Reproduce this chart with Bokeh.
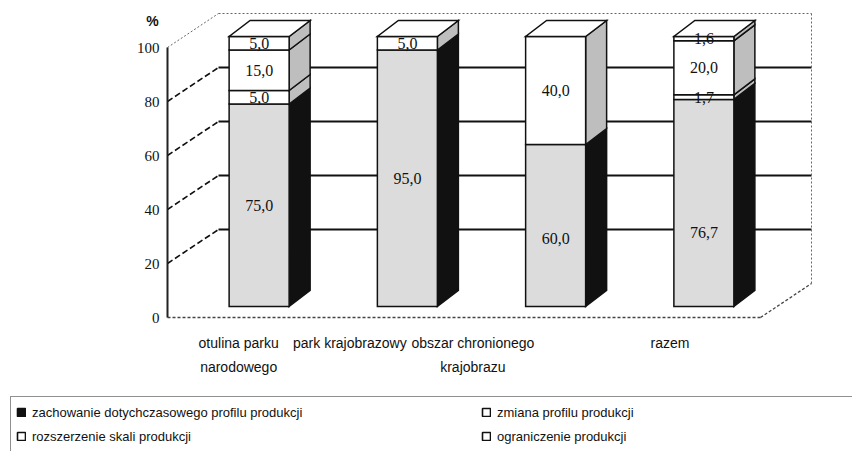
import numpy as np
from bokeh.plotting import figure
from bokeh.models import Range1d, Legend, LegendItem, ColumnDataSource
from bokeh.embed import file_html
from bokeh.resources import INLINE
from bokeh.core.properties import value

# ---------------- data ----------------
categories = ["otulina parku narodowego", "park krajobrazowy",
              "obszar chronionego krajobrazu", "razem"]
category_labels = ["otulina parku\nnarodowego", "park krajobrazowy",
                   "obszar chronionego\nkrajobrazu", "razem"]
series_names = ["zachowanie dotychczasowego profilu produkcji",
                "zmiana profilu produkcji",
                "rozszerzenie skali produkcji",
                "ograniczenie produkcji"]
zachowanie = [75.0, 95.0, 60.0, 76.7]
zmiana = [5.0, 0.0, 0.0, 1.7]
rozszerzenie = [15.0, 0.0, 40.0, 20.0]
ograniczenie = [5.0, 5.0, 0.0, 1.6]
y_ticks = [0, 20, 40, 60, 80, 100]
y_title = "%"

series = [zachowanie, zmiana, rozszerzenie, ograniczenie]

# ---------------- styles / geometry ----------------
front_colors = ["#dcdcdc", "white", "white", "white"]
side_colors = ["#111111", "#bebebe", "#bebebe", "#bebebe"]
legend_colors = ["#111111", "white", "white", "white"]
label_shift = [-0.02, -0.27, -0.44, -0.11]      # category label nudges (category units)
bottom_label_nudge_px = [0, 0, 13, 30]           # data-label nudges for first series

W, H = 852, 451
AXIS_PX, ZERO_PX = 167, 317       # front axis position in the picture
SLOT_PX = 148.25
PX_PER_UNIT = 2.7
x_lo = -0.5
x_first_px = AXIS_PX + SLOT_PX / 2
x_start = (0 - x_first_px) / SLOT_PX
x_end = (W - x_first_px) / SLOT_PX
y_start = (ZERO_PX - H) / PX_PER_UNIT
y_end = ZERO_PX / PX_PER_UNIT
x_floor_right = x_lo + len(categories)

WALL_DX, WALL_DY = 51 / SLOT_PX, 34 / PX_PER_UNIT
BAR_DX, BAR_DY = 17.5 / SLOT_PX, 11 / PX_PER_UNIT
BAR_HALF = 30 / SLOT_PX
DEPTH_X, DEPTH_Y = 21 / SLOT_PX, 16 / PX_PER_UNIT

SANS = "Liberation Sans"
SERIF = "Liberation Serif"
INK = "#111111"

p = figure(width=W, height=H, output_backend="svg", toolbar_location=None,
           x_range=Range1d(x_start, x_end), y_range=Range1d(y_start, y_end),
           x_axis_type=None, y_axis_type=None, min_border=0)
p.outline_line_color = None
p.background_fill_color = "white"
p.border_fill_color = "white"

# ---------------- walls ----------------
inner = [t for t in y_ticks if 0 < t < 100]
top_t = max(y_ticks)
p.segment(x0=[x_lo + WALL_DX] * len(inner), y0=[t + WALL_DY for t in inner],
          x1=[x_floor_right + WALL_DX] * len(inner), y1=[t + WALL_DY for t in inner],
          line_color=INK, line_width=2.2)
p.segment(x0=[x_lo] * len(inner), y0=inner,
          x1=[x_lo + WALL_DX] * len(inner), y1=[t + WALL_DY for t in inner],
          line_color=INK, line_width=1.6, line_dash="6 3")
fx0 = [x_lo + WALL_DX, x_floor_right + WALL_DX, x_lo]
fy0 = [top_t + WALL_DY, WALL_DY, top_t]
fx1 = [x_floor_right + WALL_DX, x_floor_right + WALL_DX, x_lo + WALL_DX]
fy1 = [top_t + WALL_DY, top_t + WALL_DY, top_t + WALL_DY]
p.segment(x0=fx0, y0=fy0, x1=fx1, y1=fy1, line_color="#666666",
          line_width=1, line_dash="2 2")
p.segment(x0=[x_lo, x_floor_right], y0=[0, 0],
          x1=[x_floor_right, x_floor_right + WALL_DX], y1=[0, WALL_DY],
          line_color="#444444", line_width=1.3, line_dash="3 2")

# front value axis
p.segment(x0=[x_lo], y0=[min(y_ticks)], x1=[x_lo], y1=[max(y_ticks)],
          line_color="#222222", line_width=2)
p.text(x=[x_lo] * len(y_ticks), y=y_ticks, text=[str(t) for t in y_ticks],
       x_offset=-8, text_align="right", text_baseline="middle",
       text_font=value(SERIF), text_font_size="15px", text_color=INK)
p.text(x=[x_lo], y=[max(y_ticks)], text=[y_title], x_offset=-15, y_offset=-27,
       text_align="center", text_baseline="middle", text_font=value(SANS),
       text_font_size="14px", text_font_style="bold", text_color=INK)

# category labels (front floor)
first_lines = [lab.split("\n")[0] for lab in category_labels]
cx = [i + label_shift[i] for i in range(len(categories))]
p.text(x=cx, y=[0] * len(categories), text=first_lines, y_offset=25,
       text_align="center", text_baseline="middle", text_font=value(SANS),
       text_font_size="14px", text_color=INK)
sec = [(cx[i], lab.split("\n")[1]) for i, lab in enumerate(category_labels) if "\n" in lab]
p.text(x=[s[0] for s in sec], y=[0] * len(sec), text=[s[1] for s in sec], y_offset=49,
       text_align="center", text_baseline="middle", text_font=value(SANS),
       text_font_size="14px", text_color=INK)

# ---------------- bars ----------------
def fmt(v):
    return f"{v:.1f}".replace(".", ",")

xs, ys, fills = [], [], []
lx, ly, lt, loff = [], [], [], []
for i, cat in enumerate(categories):
    xc = i + BAR_DX
    xl, xr = xc - BAR_HALF, xc + BAR_HALF
    base = 0.0
    for s, vals in enumerate(series):
        v = vals[i]
        if v <= 0:
            continue
        y0, y1 = BAR_DY + base, BAR_DY + base + v
        xs.append([xr, xr + DEPTH_X, xr + DEPTH_X, xr])
        ys.append([y0, y0 + DEPTH_Y, y1 + DEPTH_Y, y1])
        fills.append(side_colors[s])
        xs.append([xl, xr, xr, xl])
        ys.append([y0, y0, y1, y1])
        fills.append(front_colors[s])
        lx.append(xc)
        ly.append((y0 + y1) / 2)
        lt.append(fmt(v))
        loff.append(bottom_label_nudge_px[i] if s == 0 else 0)
        base += v
    yt = BAR_DY + base
    xs.append([xl, xr, xr + DEPTH_X, xl + DEPTH_X])
    ys.append([yt, yt, yt + DEPTH_Y, yt + DEPTH_Y])
    fills.append("white")

bar_src = ColumnDataSource(dict(xs=xs, ys=ys, fill=fills))
p.patches("xs", "ys", source=bar_src, fill_color="fill", line_color=INK,
          line_width=1.5, line_join="miter")

lab_src = ColumnDataSource(dict(x=lx, y=ly, t=lt, off=loff))
p.text("x", "y", text="t", source=lab_src, y_offset="off", text_align="center",
       text_baseline="middle", text_font_size="16px", text_color=INK,
       text_font=value(SERIF))

# ---------------- legend ----------------
NCOLS = 2
nrows = (len(series_names) + NCOLS - 1) // NCOLS
renderers = []
for col in legend_colors:
    nan = np.array([np.nan])
    r = p.quad(left=nan, right=nan, top=nan, bottom=nan, fill_color=col,
               line_color=INK, line_width=1.6)
    renderers.append(r)
# Bokeh fills legend columns first; reorder so rows read as in the source
order = [r * NCOLS + c for c in range(NCOLS) for r in range(nrows)
         if r * NCOLS + c < len(series_names)]
items = [LegendItem(label=series_names[k], renderers=[renderers[k]]) for k in order]

legend = Legend(items=items, ncols=NCOLS, location=(10, -1),
                glyph_width=10, glyph_height=10, label_height=20,
                label_width=445, label_standoff=6, spacing=4, padding=5,
                margin=0, border_line_color="#222222", border_line_width=1,
                background_fill_color="white", background_fill_alpha=1,
                label_text_font=SANS, label_text_font_size="13px",
                label_text_color=INK)
p.add_layout(legend)

open("out.html", "w").write(file_html(p, INLINE))
